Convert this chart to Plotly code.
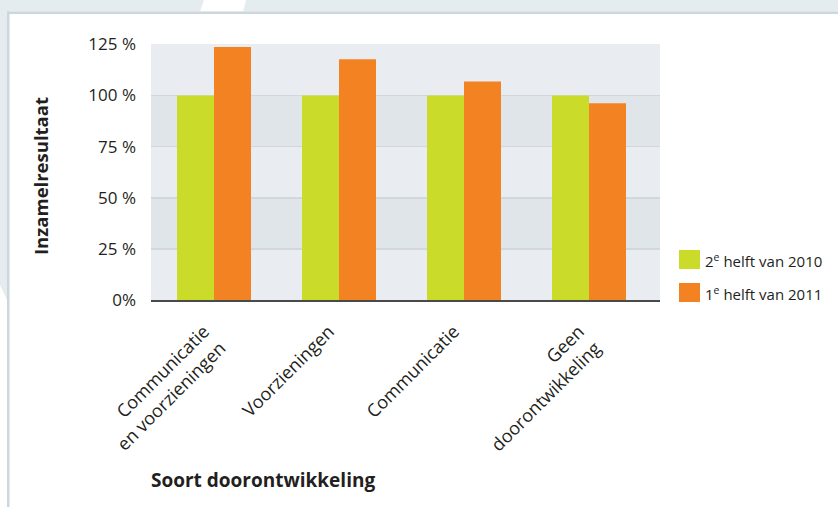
import plotly.graph_objects as go

categories = ["Communicatie<br>en voorzieningen", "Voorzieningen", "Communicatie", "Geen<br>doorontwikkeling"]
series_2010 = [100, 100, 100, 100]
series_2011 = [123.7, 117.7, 106.9, 96.2]
series_names = ["2<sup>e</sup> helft van 2010", "1<sup>e</sup> helft van 2011"]
series_colors = ["#cbdb2a", "#f38222"]
y_tickvals = [0, 25, 50, 75, 100, 125]
y_ticktext = ["0%", "25 %", "50 %", "75 %", "100 %", "125 %"]

W, H = 838, 507
L, R, T, B = 151, 178, 44, 207
pw, ph = W - L - R, H - T - B

def px(x):
    return (x - L) / pw

def py(y):
    return 1 - (y - T) / ph

FONT = "Open Sans"
TXT = "#231f20"

fig = go.Figure()
for vals, name, col in zip([series_2010, series_2011], series_names, series_colors):
    fig.add_bar(x=categories, y=vals, name=name, marker_color=col, marker_line_width=0,
                showlegend=False, hoverinfo="skip")

shapes = []
# alternating bands
for lo, hi in [(25, 50), (75, 100)]:
    shapes.append(dict(type="rect", xref="paper", yref="y", x0=0, x1=1, y0=lo, y1=hi,
                       fillcolor="#dfe5e9", line_width=0, layer="below"))
# frame: top strip and left strip
shapes.append(dict(type="rect", xref="paper", yref="paper", x0=px(0), x1=px(W), y0=py(0), y1=py(11.5),
                   fillcolor="#e5ecf0", line_width=0, layer="below"))
shapes.append(dict(type="path", xref="paper", yref="paper",
                   path=f"M {px(204)},{py(0)} L {px(246)},{py(0)} L {px(243)},{py(11.5)} L {px(200)},{py(11.5)} Z",
                   fillcolor="#ffffff", line_width=0, layer="below"))
shapes.append(dict(type="path", xref="paper", yref="paper",
                   path=f"M {px(0)},{py(0)} L {px(7)},{py(0)} L {px(7)},{py(300)} L {px(0)},{py(285)} Z",
                   fillcolor="#e5ecf0", line_width=0, layer="below"))
shapes.append(dict(type="rect", xref="paper", yref="paper", x0=px(7), x1=px(W), y0=py(11.5), y1=py(14),
                   fillcolor="#cdd6dc", line_width=0, layer="below"))
shapes.append(dict(type="rect", xref="paper", yref="paper", x0=px(7), x1=px(9.5), y0=py(11.5), y1=py(H),
                   fillcolor="#cdd6dc", line_width=0, layer="below"))

annotations = [
    dict(text="<b>Inzamelresultaat</b>", xref="paper", yref="paper", x=px(40), y=py(176),
         textangle=-90, showarrow=False, font=dict(family=FONT, size=18.5, color=TXT),
         xanchor="center", yanchor="middle"),
    dict(text="<b>Soort doorontwikkeling</b>", xref="paper", yref="paper", x=px(149), y=py(480),
         showarrow=False, font=dict(family=FONT, size=19, color=TXT),
         xanchor="left", yanchor="middle"),
]

# manual legend (large square swatches as in the reference)
leg_rows = [259.5, 292.5]
for name, col, yc in zip(series_names, series_colors, leg_rows):
    shapes.append(dict(type="rect", xref="paper", yref="paper", x0=px(679), x1=px(700),
                       y0=py(yc - 9.5), y1=py(yc + 9.5), fillcolor=col, line_width=0))
    annotations.append(dict(text=name, xref="paper", yref="paper", x=px(703), y=py(yc + 1),
                            showarrow=False, xanchor="left", yanchor="middle",
                            font=dict(family=FONT, size=15, color=TXT)))

fig.update_layout(
    width=W, height=H,
    margin=dict(l=L, r=R, t=T, b=B, autoexpand=False),
    paper_bgcolor="#ffffff",
    plot_bgcolor="#e9edf1",
    barmode="group",
    bargap=0.408,
    bargroupgap=0,
    shapes=shapes,
    annotations=annotations,
    font=dict(family=FONT, size=15, color=TXT),
    showlegend=False,
    hovermode=False,
    xaxis=dict(range=[-0.504, 3.568], tickangle=-45, showgrid=False,
               showline=True, linecolor="#4a4a4a", linewidth=2,
               ticks="", ticklabelstandoff=12, ticklabelshift=-10,
               tickfont=dict(family=FONT, size=18, color=TXT)),
    yaxis=dict(range=[0, 125.2], tickvals=y_tickvals, ticktext=y_ticktext,
               showgrid=True, gridcolor="#d0d8de", gridwidth=1.5,
               zeroline=False, showline=False, ticks="", ticklabelstandoff=14,
               tickfont=dict(family=FONT, size=17, color=TXT)),
)

fig.write_html("out.html", config={"displayModeBar": False, "staticPlot": True},
               post_script="document.body.style.margin='0';document.body.style.overflow='hidden';")
